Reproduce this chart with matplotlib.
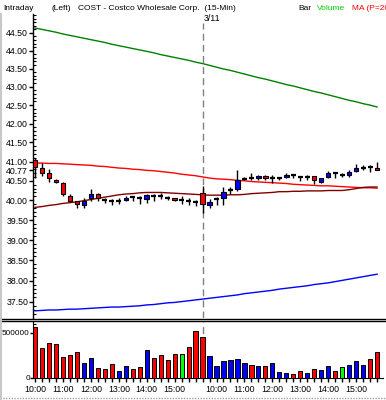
import numpy as np
import matplotlib
matplotlib.use("Agg")
import matplotlib.pyplot as plt
from matplotlib.lines import Line2D
from matplotlib.ticker import FixedLocator, NullFormatter, FuncFormatter
import matplotlib.transforms as mtrans

plt.rcParams['font.family'] = ['Liberation Sans', 'DejaVu Sans']

## 15-min bars: day 1 (10:00-15:45), day 2 from 3/11 (9:30-15:45)
opens = [41.04, 40.84, 40.71, 40.52, 40.45, 40.12, 39.97, 39.88, 40.05, 40.16,
         40.00, 39.98, 39.99, 40.01, 40.08, 40.05, 40.04, 40.12, 40.11, 40.05,
         40.07, 40.00, 39.97, 39.95,
         40.19, 39.88, 40.02, 40.06, 40.26, 40.30, 40.55, 40.56, 40.56, 40.62,
         40.56, 40.58, 40.61, 40.65, 40.61, 40.61, 40.63, 40.47, 40.60, 40.69,
         40.64, 40.66, 40.75, 40.84, 40.87, 40.84]
highs = [41.08, 40.95, 40.80, 40.54, 40.46, 40.15, 39.99, 40.05, 40.28, 40.18,
         40.06, 40.02, 40.05, 40.12, 40.12, 40.11, 40.17, 40.16, 40.19, 40.10,
         40.07, 40.12, 40.05, 40.00,
         40.36, 40.02, 40.08, 40.35, 40.35, 40.77, 40.61, 40.69, 40.66, 40.64,
         40.64, 40.61, 40.69, 40.66, 40.63, 40.66, 40.63, 40.58, 40.75, 40.70,
         40.70, 40.77, 40.94, 40.92, 40.92, 40.99]
lows = [40.58, 40.62, 40.47, 40.44, 40.10, 39.96, 39.81, 39.81, 39.99, 39.97,
        39.94, 39.89, 39.91, 39.97, 39.99, 39.91, 39.93, 39.99, 40.02, 40.00,
        39.97, 39.91, 39.88, 39.85,
        39.67, 39.81, 39.88, 39.88, 40.17, 40.23, 40.52, 40.52, 40.53, 40.52,
        40.45, 40.52, 40.58, 40.58, 40.49, 40.53, 40.42, 40.45, 40.56, 40.56,
        40.60, 40.61, 40.73, 40.77, 40.73, 40.77]
closes = [40.87, 40.71, 40.58, 40.46, 40.16, 39.99, 39.90, 39.99, 40.16, 40.06,
          40.00, 39.98, 39.99, 40.07, 40.08, 40.05, 40.13, 40.12, 40.11, 40.05,
          40.01, 40.00, 39.97, 39.95,
          39.90, 39.96, 40.02, 40.20, 40.26, 40.52, 40.55, 40.56, 40.63, 40.56,
          40.56, 40.58, 40.66, 40.65, 40.61, 40.61, 40.52, 40.58, 40.69, 40.69,
          40.64, 40.74, 40.82, 40.84, 40.87, 40.77]

volume = [559000, 327000, 386000, 375000, 228000, 254000, 283000, 162000, 217000, 107000,
          96000, 151000, 77000, 129000, 96000, 118000, 305000, 217000, 250000, 195000,
          261000, 261000, 338000, 515000,
          449000, 239000, 129000, 184000, 195000, 206000, 162000, 140000, 129000, 129000,
          162000, 62000, 51000, 40000, 74000, 51000, 96000, 85000, 129000, 74000,
          118000, 140000, 184000, 140000, 206000, 283000]
vol_dir = list("rrrrrrrbbrrrbbrrbrrrrgrr" + "rbbbbbbrbrbbbrrbrbbrgbbbrr")

ma_red = [40.96, 40.96, 40.95, 40.95, 40.94, 40.93, 40.92, 40.91, 40.90, 40.88,
          40.87, 40.85, 40.83, 40.82, 40.80, 40.79, 40.77, 40.76, 40.74, 40.72,
          40.70, 40.67, 40.65, 40.63, 40.60, 40.57, 40.55, 40.54, 40.53, 40.51,
          40.50, 40.48, 40.47, 40.46, 40.45, 40.44, 40.43, 40.41, 40.40, 40.39,
          40.38, 40.37, 40.37, 40.36, 40.35, 40.34, 40.33, 40.32, 40.32, 40.31]
ma_dark = [39.82, 39.84, 39.87, 39.89, 39.92, 39.94, 39.96, 39.99, 40.02, 40.05,
           40.08, 40.11, 40.14, 40.16, 40.17, 40.19, 40.20, 40.20, 40.20, 40.19,
           40.18, 40.17, 40.16, 40.15, 40.14, 40.13, 40.13, 40.13, 40.14, 40.14,
           40.15, 40.17, 40.18, 40.19, 40.20, 40.22, 40.22, 40.23, 40.23, 40.24,
           40.24, 40.24, 40.25, 40.25, 40.25, 40.27, 40.30, 40.33, 40.34, 40.34]
upper_green = [44.64, 44.60, 44.56, 44.52, 44.47, 44.43, 44.39, 44.35, 44.31, 44.27,
               44.23, 44.18, 44.14, 44.10, 44.06, 44.02, 43.98, 43.94, 43.89, 43.85,
               43.81, 43.77, 43.73, 43.68, 43.64, 43.59, 43.54, 43.49, 43.45, 43.40,
               43.35, 43.30, 43.25, 43.21, 43.16, 43.11, 43.06, 43.02, 42.97, 42.92,
               42.87, 42.83, 42.78, 42.73, 42.68, 42.63, 42.59, 42.54, 42.50, 42.45]
lower_blue = [37.28, 37.29, 37.30, 37.30, 37.31, 37.32, 37.32, 37.33, 37.34, 37.35,
              37.36, 37.37, 37.37, 37.38, 37.39, 37.40, 37.42, 37.43, 37.45, 37.47,
              37.48, 37.50, 37.52, 37.54, 37.56, 37.58, 37.60, 37.62, 37.64, 37.66,
              37.69, 37.71, 37.73, 37.75, 37.77, 37.80, 37.82, 37.84, 37.86, 37.88,
              37.91, 37.93, 37.95, 37.98, 38.01, 38.04, 38.07, 38.10, 38.13, 38.16]

hour_idx = [0, 4, 8, 12, 16, 20, 26, 30, 34, 38, 42, 46]
hour_lbl = ["10:00", "11:00", "12:00", "13:00", "14:00", "15:00"] * 2
day_break = 24
price_ticks = [37.5, 38.0, 38.5, 39.0, 39.5, 40.0, 40.5, 41.0, 41.5, 42.0, 42.5, 43.0, 43.5, 44.0, 44.5]
last_price = 40.77

W, H = 386, 400
fig = plt.figure(figsize=(W / 100, H / 100), dpi=100)
fig.patch.set_facecolor("white")

def box(x0, y0, x1, y1):
    return [x0 / W, 1 - y1 / H, (x1 - x0) / W, (y1 - y0) / H]

ax = fig.add_axes(box(33, 14, 383, 318))
axv = fig.add_axes(box(33, 322, 383, 378))

x = np.arange(len(closes))
xlim = (-0.29, 49.85)

# price lines
ax.plot(x, upper_green, color="#008000", lw=1)
ax.plot(x, lower_blue, color="#0000FF", lw=1)
ax.plot(x, ma_red, color="#FF0000", lw=1)
ax.plot(x, ma_dark, color="#800000", lw=1)

# candles
for i in range(len(closes)):
    o, h, l, c = opens[i], highs[i], lows[i], closes[i]
    ax.vlines(i, l, h, color="black", lw=1, zorder=3)
    if abs(c - o) < 0.005:
        ax.hlines(c, i - 0.36, i + 0.36, color="black", lw=1.6, zorder=4)
    else:
        col = "#0000FF" if c > o else "#FF0000"
        ax.bar(i, abs(c - o), bottom=min(o, c), width=0.64, color=col,
               edgecolor="black", lw=0.8, zorder=4)

ax.set_yscale("log")
ax.set_ylim(37.11, 45.04)
ax.set_xlim(*xlim)
ax.yaxis.set_major_locator(FixedLocator(price_ticks + [last_price]))
ax.yaxis.set_major_formatter(FuncFormatter(lambda v, p: "%.2f" % v))
ax.yaxis.set_minor_locator(FixedLocator(np.arange(37.2, 45.01, 0.1)))
ax.yaxis.set_minor_formatter(NullFormatter())
ax.tick_params(axis="y", which="major", direction="out", length=3, width=1,
               labelsize=6.3, pad=0.5)
ax.tick_params(axis="y", which="minor", direction="in", length=2, width=0.8)
ax.set_xticks([])
for s in ["top", "right", "bottom"]:
    ax.spines[s].set_visible(False)
ax.spines["left"].set_linewidth(1)

ax.axvline(day_break, ymin=0, ymax=0.97, color="#808080", lw=1, ls=(0, (5, 3)), zorder=1)
tr = mtrans.blended_transform_factory(ax.transData, ax.transAxes)
ax.text(day_break + 0.15, 0.999, "3/11", transform=tr, ha="left", va="top", fontsize=6.3)

# volume
vcol = {"r": "#FF0000", "b": "#0000FF", "g": "#00FF00"}
axv.bar(x, volume, width=0.6, color=[vcol[d] for d in vol_dir], edgecolor="black", lw=0.7, zorder=3)
axv.axvline(day_break, color="#808080", lw=1, ls=(0, (5, 3)), zorder=1)
axv.set_xlim(*xlim)
axv.set_ylim(0, 618000)
axv.set_yticks([0, 500000])
axv.set_yticklabels(["0", "500000"])
axv.yaxis.set_minor_locator(FixedLocator([100000, 200000, 300000, 400000, 600000]))
axv.set_xticks(hour_idx)
axv.set_xticklabels(hour_lbl)
axv.xaxis.set_minor_locator(FixedLocator(x))
axv.tick_params(axis="x", which="both", direction="out", length=3, width=1, labelsize=6.3, pad=2)
axv.tick_params(axis="y", which="major", direction="out", length=2, width=1, labelsize=5.9, pad=0.3)
axv.tick_params(axis="y", which="minor", direction="in", length=2, width=0.8)
for s in ["top", "right"]:
    axv.spines[s].set_visible(False)

# panel separators and frame bits
for yy in (318.5, 321.0):
    fig.add_artist(Line2D([0, 1], [1 - yy / H] * 2, color="black", lw=1))
fig.add_artist(Line2D([0, 1], [1 - 398 / H] * 2, color="#A0A0A0", lw=1, ls=(0, (1, 1))))
fig.add_artist(Line2D([1 / W, 1 / W], [0, 1 - 14 / H], color="#C8C8C8", lw=1.5))

# header
ty = 1 - 8 / H
fig.text(3 / W, ty, "Intraday", fontsize=6, va="center")
fig.text(52 / W, ty, "(Left)", fontsize=6, va="center")
fig.text(78 / W, ty, "COST - Costco Wholesale Corp.  (15-Min)", fontsize=6, va="center")
fig.text(298 / W, ty, "Bar", fontsize=6, va="center")
fig.text(317 / W, ty, "Volume", fontsize=6, va="center", color="#00CC00")
fig.text(352 / W, ty, "MA (P=20)", fontsize=6, va="center", color="#FF0000")

fig.savefig("out.png", dpi=100)
plt.close("all")
